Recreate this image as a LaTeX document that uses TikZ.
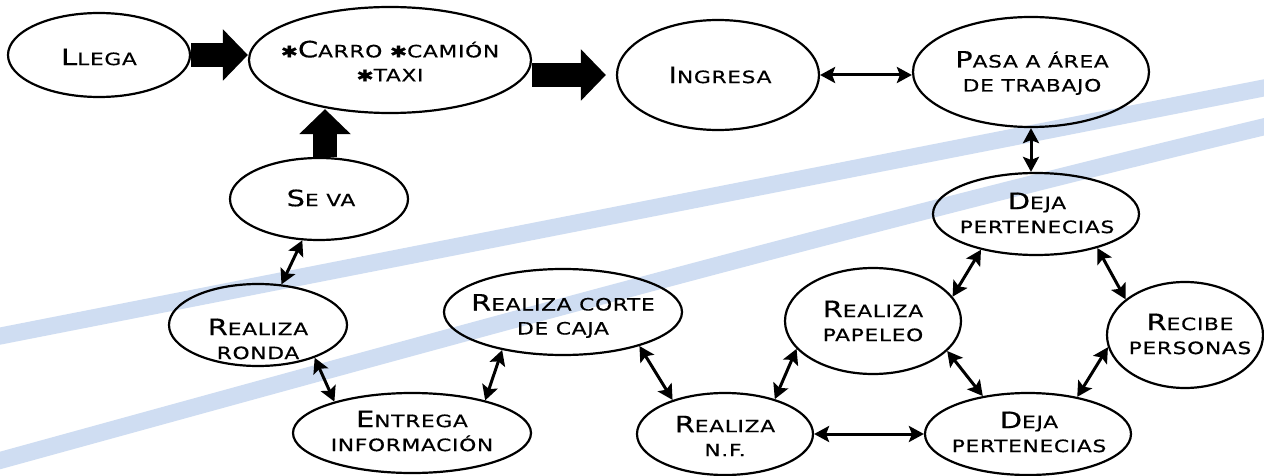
\documentclass[tikz,border=0pt]{standalone}
\usepackage{fontspec}
\usetikzlibrary{shapes.geometric,arrows.meta}
\newfontfamily\cpf[FakeStretch=1.28,LetterSpace=4,FakeBold=0.5]{DejaVu Sans}
\newcommand\Bg[1]{{\fontsize{22.5}{23}\selectfont #1}}
\newcommand\Sy{{\fontsize{16}{23}\selectfont ✱}}
\definecolor{stripe}{RGB}{207,221,242}
\tikzset{
  oval/.style={draw, ellipse, line width=2.2pt, inner sep=0pt},
  lbl/.style={font=\cpf\fontsize{17}{24}\selectfont, align=center, inner sep=0pt},
  dbl/.style={line width=3pt, {Stealth[length=15pt,width=16pt,inset=3pt]}-{Stealth[length=15pt,width=16pt,inset=3pt]}},
  block/.style={line width=24pt, -{Triangle[width=50pt,length=25pt]}}
}
\begin{document}
\begin{tikzpicture}[x=1pt,y=-1pt]
\useasboundingbox (0,0) rectangle (1264,476);
\fill[white] (0,0) rectangle (1264,476);
% background stripes
\draw[stripe, line width=17pt] (-20,340) -- (1284,84);
\draw[stripe, line width=17pt] (-20,466) .. controls (420,345) and (840,228) .. (1284,122);
% ellipses
\node[oval, minimum width=182pt, minimum height=84pt]  (ll) at (99,55) {};
\node[oval, minimum width=282pt, minimum height=106pt] (ca) at (390,60) {};
\node[oval, minimum width=202pt, minimum height=110pt] (in) at (718,75) {};
\node[oval, minimum width=236pt, minimum height=110pt] (pa) at (1031,72) {};
\node[oval, minimum width=206pt, minimum height=82pt]  (d1) at (1036,214) {};
\node[oval, minimum width=156pt, minimum height=106pt] (rp) at (1185,335) {};
\node[oval, minimum width=176pt, minimum height=106pt] (pp) at (873,321) {};
\node[oval, minimum width=206pt, minimum height=82pt]  (d2) at (1028,434) {};
\node[oval, minimum width=176pt, minimum height=82pt]  (nf) at (725,434) {};
\node[oval, minimum width=238pt, minimum height=86pt]  (cc) at (563,312) {};
\node[oval, minimum width=238pt, minimum height=80pt]  (en) at (412,433) {};
\node[oval, minimum width=178pt, minimum height=82pt]  (rr) at (258,325) {};
\node[oval, minimum width=178pt, minimum height=82pt]  (sv) at (319,199) {};
% labels
\node[lbl] (llt) at (99,57) {\Bg{L}LEGA};
\node[lbl] (cat) at (390,61) {\Sy\Bg{C}ARRO \Sy CAMIÓN\\\Sy TAXI};
\node[lbl] (int) at (720,75) {\Bg{I}NGRESA};
\node[lbl] (pat) at (1032,73) {\Bg{P}ASA A ÁREA\\DE TRABAJO};
\node[lbl] (d1t) at (1037,213) {\Bg{D}EJA\\PERTENECIAS};
\node[lbl] (rpt) at (1190,334) {\Bg{R}ECIBE\\PERSONAS};
\node[lbl] (ppt) at (873,321) {\Bg{R}EALIZA\\PAPELEO};
\node[lbl] (d2t) at (1029,432) {\Bg{D}EJA\\PERTENECIAS};
\node[lbl] (nft) at (725,436) {\Bg{R}EALIZA\\N.F.};
\node[lbl] (cct) at (563,316) {\Bg{R}EALIZA CORTE\\DE CAJA};
\node[lbl] (ent) at (412,431) {\Bg{E}NTREGA\\INFORMACIÓN};
\node[lbl] (rrt) at (258,339) {\Bg{R}EALIZA\\RONDA};
\node[lbl] (svt) at (321,198) {\Bg{S}E VA};
% block arrows
\draw[block] (ll.east) -- (ll.east -| ca.west);
\draw[block, shorten >=10pt] (ca.east |- in.west) -- (in.west);
\draw[block, shorten >=-5pt] ([xshift=6pt]sv.north) -- ([xshift=6pt]sv.north |- ca.south);
% double arrows
\draw[dbl] (in.east) -- (in.east -| pa.west);
\draw[dbl] (pa.south) -- (pa.south |- d1.north);
\draw[dbl] (sv.248) -- (rr.60);
\draw[dbl] (rr.330) -- (en.158);
\draw[dbl] (en.24) -- (cc.212);
\draw[dbl] (cc.336) -- (nf.147);
\draw[dbl] (nf.35) -- (pp.200);
\draw[dbl] (nf) -- (d2);
\draw[dbl] (pp.338) -- (d2.140);
\draw[dbl] (pp.17) -- (d1.213);
\draw[dbl] (d1.331) -- (rp.149);
\draw[dbl] (rp.189) -- (d2.37);
\end{tikzpicture}
\end{document}
